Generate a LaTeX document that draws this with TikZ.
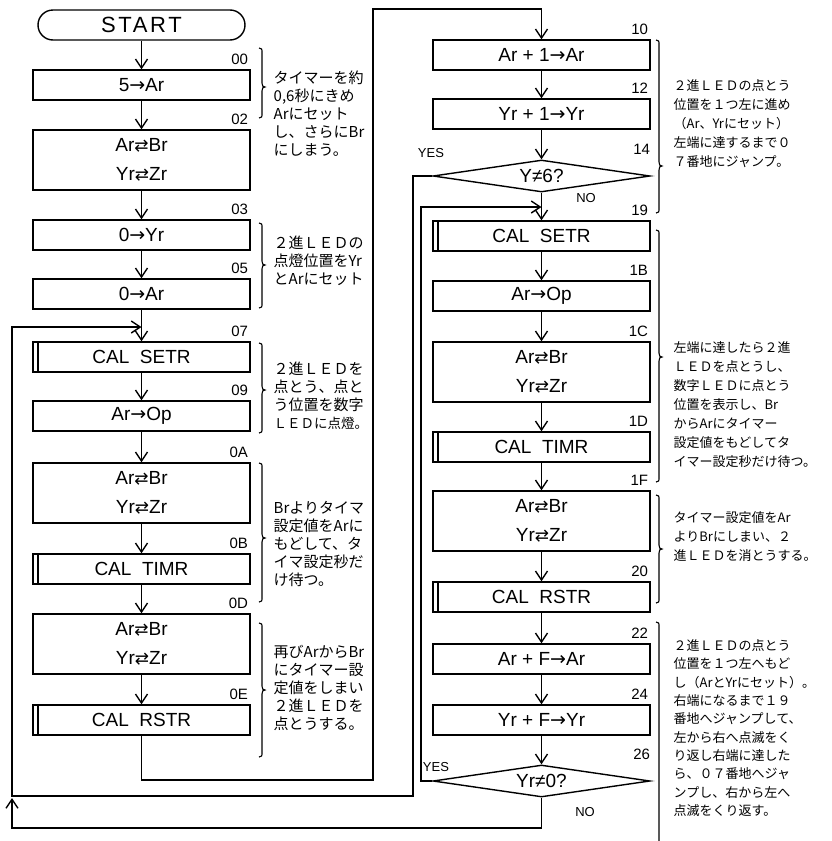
\documentclass[tikz,border=0pt]{standalone}
\usepackage{fontspec}
\setmainfont{Liberation Sans}
\newfontfamily\jpf{Noto Sans CJK JP}
\newfontfamily\symf{DejaVu Sans}
\usetikzlibrary{arrows.meta,shapes.geometric}
\newcommand\xch{{\symf\fontsize{17}{17}\selectfont ⇄}}
\newcommand\rarr{{\symf →}}
\newcommand\mybrace[4]{%
\draw[brl] (#1,#2) .. controls (#1+3,#2) and (#1+3,#2+1) .. (#1+3,#2+5) -- (#1+3,#3-4) .. controls (#1+3,#3-1) and (#1+4,#3) .. (#1+6,#3) .. controls (#1+4,#3) and (#1+3,#3+1) .. (#1+3,#3+4) -- (#1+3,#4-5) .. controls (#1+3,#4-1) and (#1+3,#4) .. (#1,#4);}
\begin{document}
\begin{tikzpicture}[x=1pt,y=-1pt,line width=1.4pt,
  box/.style={draw, rectangle, minimum width=217pt, minimum height=30pt, inner sep=0pt, font=\fontsize{19}{29}\selectfont, align=center},
  dbox/.style={box, minimum height=60pt},
  sub/.style={box, path picture={\draw[line width=1.6pt] ([xshift=5pt]path picture bounding box.north west) -- ([xshift=5pt]path picture bounding box.south west);}},
  dec/.style={draw, diamond, aspect=7, minimum width=217pt, minimum height=32pt, inner sep=0pt, font=\fontsize{19}{22}\selectfont},
  arr/.style={-{Straight Barb[length=9pt,width=12pt]}},
  addr/.style={anchor=south east, inner sep=0pt, font=\fontsize{15}{15}\selectfont},
  yn/.style={inner sep=0pt, font=\fontsize{13}{13}\selectfont},
  noteL/.style={anchor=north west, inner sep=0pt, align=left, font=\jpf\fontsize{15}{18}\selectfont},
  noteR/.style={anchor=north west, inner sep=0pt, align=left, font=\jpf\fontsize{13}{19}\selectfont},
  brl/.style={line width=1.1pt}
]
\useasboundingbox (0,0) rectangle (831,841);

% ---- left column ----
\node[draw, rectangle, rounded corners=15pt, minimum width=207pt, minimum height=30pt, inner sep=0pt,
      font=\fontsize{22}{22}\selectfont\addfontfeatures{LetterSpace=12}] (start) at (141.5,25) {START};
\node[box]  (b00) at (141.5,85)  {5\rarr Ar};
\node[dbox] (b02) at (141.5,160) {Ar\xch Br\\Yr\xch Zr};
\node[box]  (b03) at (141.5,235) {0\rarr Yr};
\node[box]  (b05) at (141.5,294) {0\rarr Ar};
\node[sub]  (b07) at (141.5,357) {CAL\ \ SETR};
\node[box]  (b09) at (141.5,416) {Ar\rarr Op};
\node[dbox] (b0A) at (141.5,493) {Ar\xch Br\\Yr\xch Zr};
\node[sub]  (b0B) at (141.5,569) {CAL\ \ TIMR};
\node[dbox] (b0D) at (141.5,644) {Ar\xch Br\\Yr\xch Zr};
\node[sub]  (b0E) at (141.5,720) {CAL\ \ RSTR};

% ---- right column ----
\node[box]  (b10) at (541.5,55)  {Ar + 1\rarr Ar};
\node[box]  (b12) at (541.5,114) {Yr + 1\rarr Yr};
\node[dec]  (d14) at (541.5,176) {Y≠6?};
\node[sub]  (b19) at (541.5,236) {CAL\ \ SETR};
\node[box]  (b1B) at (541.5,296) {Ar\rarr Op};
\node[dbox] (b1C) at (541.5,372) {Ar\xch Br\\Yr\xch Zr};
\node[sub]  (b1D) at (541.5,447) {CAL\ \ TIMR};
\node[dbox] (b1F) at (541.5,521) {Ar\xch Br\\Yr\xch Zr};
\node[sub]  (b20) at (541.5,597) {CAL\ \ RSTR};
\node[box]  (b22) at (541.5,659) {Ar + F\rarr Ar};
\node[box]  (b24) at (541.5,720) {Yr + F\rarr Yr};
\node[dec]  (d26) at (541.5,781) {Yr≠0?};

% ---- addresses ----
\foreach \n/\t in {b00/00,b02/02,b03/03,b05/05,b07/07,b09/09,b0A/0A,b0B/0B,b0D/0D,b0E/0E,
                   b10/10,b12/12,b19/19,b1B/1B,b1C/1C,b1D/1D,b1F/1F,b20/20,b22/22,b24/24}
  \node[addr] (a\n) at ([xshift=-2pt,yshift=4pt]\n.north east) {\t};
\node[addr] (ad14) at ([yshift=4pt]d14.north -| d14.east) {14};
\node[addr] (ad26) at ([yshift=4pt]d26.north -| d26.east) {26};

% ---- junctions ----
\coordinate (j07) at (141.5,327);
\coordinate (j19) at (541.5,207);

% ---- connectors ----
\draw[arr] (start.south) -- (b00.north);
\draw[arr] (b00.south) -- (b02.north);
\draw[arr] (b02.south) -- (b03.north);
\draw[arr] (b03.south) -- (b05.north);
\draw[arr] (b05.south) -- (b07.north);
\draw[arr] (b07.south) -- (b09.north);
\draw[arr] (b09.south) -- (b0A.north);
\draw[arr] (b0A.south) -- (b0B.north);
\draw[arr] (b0B.south) -- (b0D.north);
\draw[arr] (b0D.south) -- (b0E.north);
\draw[arr] (b0E.south) |- (373,780) |- (541.5,9) -- (b10.north);
\draw[arr] (b10.south) -- (b12.north);
\draw[arr] (b12.south) -- (d14.north);
\draw[arr] (d14.south) -- (b19.north);
\draw[arr] (b19.south) -- (b1B.north);
\draw[arr] (b1B.south) -- (b1C.north);
\draw[arr] (b1C.south) -- (b1D.north);
\draw[arr] (b1D.south) -- (b1F.north);
\draw[arr] (b1F.south) -- (b20.north);
\draw[arr] (b20.south) -- (b22.north);
\draw[arr] (b22.south) -- (b24.north);
\draw[arr] (b24.south) -- (d26.north);
\draw[arr] (d14.west) -| (413,796) -| (12,327) -- (j07);
\draw[arr] (d26.west) -| (421,207) -- (j19);
\draw[arr] (d26.south) -- (541.5,828) -| (12,798);

% ---- YES / NO ----
\node[yn] (y14) at (431,153) {YES};
\node[yn] (n14) at (586,198) {NO};
\node[yn] (y26) at (436,767) {YES};
\node[yn] (n26) at (585,812) {NO};

% ---- braces ----
\mybrace{259}{48}{87}{118}
\mybrace{259}{223}{265}{308}
\mybrace{259}{343}{390}{433}
\mybrace{259}{463}{538}{602}
\mybrace{259}{623}{690}{757}
\mybrace{656}{40}{166}{213}
\mybrace{656}{230}{357}{482}
\mybrace{656}{495}{549}{603}
\draw[brl] (656,622) .. controls (659,622) and (659,623) .. (659,627) -- (659,841);

% ---- notes ----
\node[noteL] (nA1) at (273,70) {タイマーを約\\0,6秒にきめ\\Arにセット\\し、さらにBr\\にしまう。};
\node[noteL] (nA2) at (273,235) {２進ＬＥＤの\\点燈位置をYr\\とArにセット};
\node[noteL] (nA3) at (273,361) {２進ＬＥＤを\\点とう、点と\\う位置を数字\\{\fontsize{13.5}{18}\selectfont ＬＥＤに点燈。}};
\node[noteL] (nA4) at (273,501) {Brよりタイマ\\設定値をArに\\もどして、タ\\イマ設定秒だ\\け待つ。};
\node[noteL] (nA5) at (273,645) {再びArからBr\\にタイマー設\\定値をしまい\\２進ＬＥＤを\\点とうする。};
\node[noteR] (nB1) at (673,79) {２進ＬＥＤの点とう\\位置を１つ左に進め\\（Ar、Yrにセット）\\左端に達するまで０\\７番地にジャンプ。};
\node[noteR] (nB2) at (673,341) {左端に達したら２進\\ＬＥＤを点とうし、\\数字ＬＥＤに点とう\\位置を表示し、Br\\からArにタイマー\\設定値をもどしてタ\\イマー設定秒だけ待つ。};
\node[noteR] (nB3) at (673,511) {タイマー設定値をAr\\よりBrにしまい、２\\進ＬＥＤを消とうする。};
\node[noteR, font=\jpf\fontsize{13}{18.3}\selectfont] (nB4) at (673,639) {２進ＬＥＤの点とう\\位置を１つ左へもど\\し（ArとYrにセット）。\\右端になるまで１９\\番地へジャンプして、\\左から右へ点滅をく\\り返し右端に達した\\ら、０７番地へジャ\\ンプし、右から左へ\\点滅をくり返す。};
\end{tikzpicture}
\end{document}
